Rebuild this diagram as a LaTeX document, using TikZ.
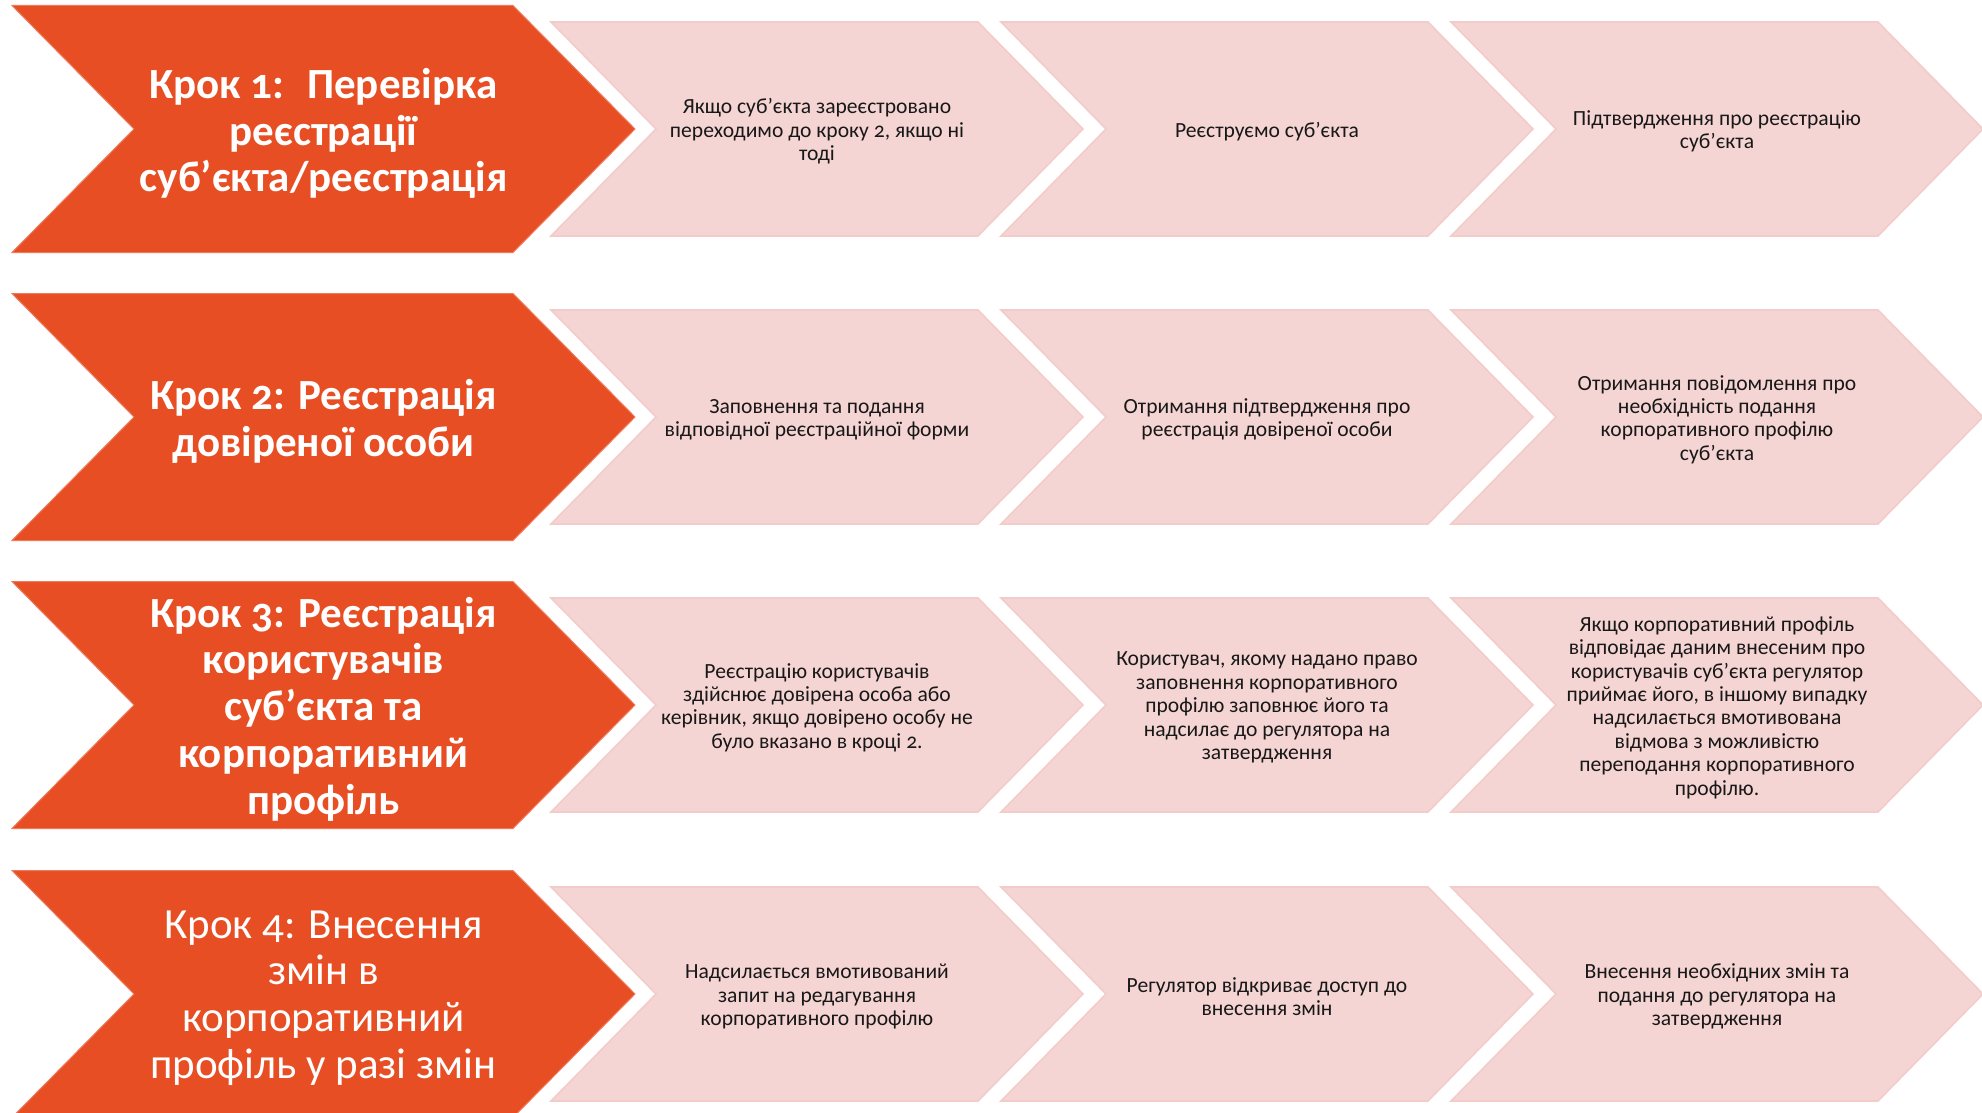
\documentclass[tikz,border=0pt]{standalone}
\usepackage{fontspec}
\setmainfont{Carlito}[Numbers=OldStyle]
\usepackage{xcolor}
\usepackage{tikz}
\usetikzlibrary{positioning}

\definecolor{steporange}{RGB}{232,78,36}
\definecolor{actpink}{RGB}{245,213,211}
\definecolor{actedge}{RGB}{243,204,201}
\definecolor{inkgray}{RGB}{24,24,24}

% chevron: left x, centre y, width, half height, point depth, style
\newcommand{\chevron}[6]{%
  \filldraw[#6] (#1,#2-#4) -- (#1+#3-#5,#2-#4) -- (#1+#3,#2) -- (#1+#3-#5,#2+#4)
    -- (#1,#2+#4) -- (#1+#5,#2) -- cycle;}

\begin{document}
\begin{tikzpicture}[
    x=0.5pt, y=-0.5pt,
    bigchev/.style={fill=steporange, draw=steporange!75!white, line width=0.5pt},
    smallchev/.style={fill=actpink, draw=actedge, line width=0.8pt},
    steptitle/.style={text=white, align=center, font=\fontsize{21.5}{23.4}\selectfont\bfseries},
    steplight/.style={steptitle, font=\fontsize{21.5}{23.4}\selectfont},
    acttext/.style={text=inkgray, align=center, font=\fontsize{10.8}{11.7}\selectfont}
]
    \useasboundingbox (0,0) rectangle (1982,1113);

    % chevrons, one row per step
    \foreach \yc in {129,417,705,994} {
        \chevron{12}{\yc}{623}{123.5}{122}{bigchev}
        \foreach \j in {0,1,2} {
            \chevron{551+450*\j}{\yc}{532}{107}{105}{smallchev}
        }
    }

    % step 1
    \node[steptitle] (step1) at (323.5,133.5) {Крок 1:~ Перевірка\\реєстрації\\суб’єкта/реєстрація};
    \node[acttext] (s1a) at (817,131.5) {Якщо суб’єкта зареєстровано\\переходимо до кроку 2, якщо ні\\тоді};
    \node[acttext] (s1b) at (1267,131.5) {Реєструємо суб’єкта};
    \node[acttext] (s1c) at (1717,131.5) {Підтвердження про реєстрацію\\суб’єкта};

    % step 2
    \node[steptitle] (step2) at (323.5,421) {Крок 2: Реєстрація\\довіреної особи};
    \node[acttext] (s2a) at (817,419.5) {Заповнення та подання\\відповідної реєстраційної форми};
    \node[acttext] (s2b) at (1267,419.5) {Отримання підтвердження про\\реєстрація довіреної особи};
    \node[acttext] (s2c) at (1717,419.5) {Отримання повідомлення про\\необхідність подання\\корпоративного профілю\\суб’єкта};

    % step 3
    \node[steptitle] (step3) at (323.5,709) {Крок 3: Реєстрація\\користувачів\\суб’єкта та\\корпоративний\\профіль};
    \node[acttext] (s3a) at (817,707.5) {Реєстрацію користувачів\\здійснює довірена особа або\\керівник, якщо довірено особу не\\було вказано в кроці 2.};
    \node[acttext] (s3b) at (1267,707.5) {Користувач, якому надано право\\заповнення корпоративного\\профілю заповнює його та\\надсилає до регулятора на\\затвердження};
    \node[acttext] (s3c) at (1717,707.5) {Якщо корпоративний профіль\\відповідає даним внесеним про\\користувачів суб’єкта регулятор\\приймає його, в іншому випадку\\надсилається вмотивована\\відмова з можливістю\\переподання корпоративного\\профілю.};

    % step 4
    \node[steplight] (step4) at (323.5,998) {Крок 4: Внесення\\змін в\\корпоративний\\профіль у разі змін};
    \node[acttext] (s4a) at (817,996.5) {Надсилається вмотивований\\запит на редагування\\корпоративного профілю};
    \node[acttext] (s4b) at (1267,996.5) {Регулятор відкриває доступ до\\внесення змін};
    \node[acttext] (s4c) at (1717,996.5) {Внесення необхідних змін та\\подання до регулятора на\\затвердження};
\end{tikzpicture}
\end{document}
